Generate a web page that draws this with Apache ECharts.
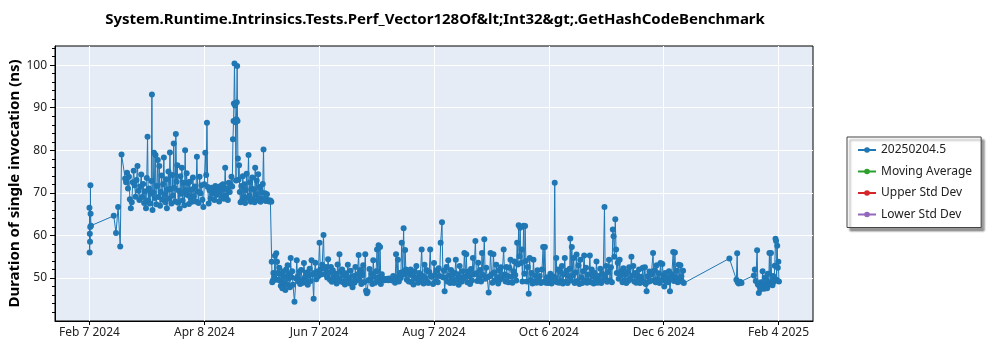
<!DOCTYPE html>
<html>
<head>
<meta charset="utf-8">
<script src="https://cdn.jsdelivr.net/npm/echarts@6/dist/echarts.min.js"></script>
<style>html,body{margin:0;padding:0;background:#fff;}#chart{width:1000px;height:350px;}</style>
</head>
<body>
<div id="chart"></div>
<script>
// Day offsets from 2024-02-07, and measured durations (ns)
const segFeb = [[0.0,66.5],[0.1,56.0],[0.2,60.4],[0.3,58.5],[0.4,62.0],[0.5,71.8],[0.6,65.1],[0.8,62.3],
  [12.8,64.6],[14.0,60.6],[15.1,66.7],[16.2,57.4],[16.9,79.0]];
const segHigh = [[18.8,73.4],[19.3,72.5],[19.8,74.7],[20.3,71.0],[20.8,73.8],[21.3,68.5],[21.8,66.4],[22.3,67.8],[22.8,72.5],[23.3,75.2],
  [23.8,71.8],[24.3,69.1],[24.8,73.0],[25.3,76.3],[25.8,70.5],[26.3,68.3],[26.8,71.5],[27.3,74.3],[27.8,69.0],[28.3,72.1],
  [28.8,67.6],[29.3,70.4],[29.8,66.4],[30.2,73.5],[30.6,83.2],[31.0,68.2],[31.4,71.0],[31.8,67.5],[32.2,69.8],[32.6,72.8],
  [32.9,93.1],[33.2,66.0],[33.6,70.1],[34.0,79.4],[34.4,68.8],[34.8,78.9],[35.2,67.3],[35.6,71.6],[36.0,77.7],[36.4,69.0],
  [36.8,76.3],[37.2,67.0],[37.6,70.2],[38.0,74.1],[38.4,68.4],[38.8,72.0],[39.2,78.3],[39.6,69.6],[40.0,67.8],[40.4,73.2],
  [40.8,66.4],[41.2,70.8],[41.6,75.0],[42.0,68.6],[42.4,79.5],[42.8,70.9],[43.2,67.5],[43.6,74.2],[44.0,69.3],[44.4,81.6],
  [44.8,71.2],[45.2,68.0],[45.5,83.8],[45.9,72.6],[46.3,76.5],[46.7,67.7],[47.1,70.5],[47.5,66.3],[47.9,73.9],[48.3,69.8],
  [48.7,75.9],[49.1,68.2],[49.5,72.4],[50.0,67.1],[50.4,80.0],[50.8,70.6],[51.2,74.6],[51.6,69.5],[52.0,72.3],[52.4,67.4],
  [52.8,72.6],[53.2,68.9],[53.6,70.8],[54.0,67.9],[54.5,73.6],[55.0,69.2],[55.5,71.5],[56.0,68.0],[56.6,78.5],[57.0,70.3],
  [57.5,67.6],[58.0,73.8],[58.5,69.9],[59.0,71.8],[59.5,68.4],[60.0,66.7],[60.5,72.0],[61.0,79.4],[61.5,74.2],[61.9,86.5],
  [62.3,71.4],[62.8,67.5],[63.3,70.6],[63.8,68.7],[64.3,71.2],[64.8,69.9],[65.3,70.9],[65.8,68.3],[66.3,71.6],[66.8,69.5],
  [67.3,70.8],[67.8,71.4],[68.3,68.0],[68.8,70.4],[69.3,71.7],[69.8,69.2],[70.3,72.0],[70.8,68.6],[71.2,70.9],[71.5,75.9],
  [71.9,69.4],[72.4,71.1],[72.9,68.3],[73.4,72.4],[73.9,70.2],[74.4,71.9],[74.8,73.8],[75.2,71.5],[75.6,82.6],[75.9,86.9],
  [76.1,91.0],[76.4,100.4],[76.7,90.5],[76.9,86.6],[77.2,72.9],[77.4,87.3],[77.6,91.3],[77.8,99.8],[78.0,86.9],[78.2,78.1],
  [78.5,73.1],[78.8,76.5],[79.2,70.2],[79.6,67.8],[80.0,71.6],[80.4,68.2],[80.8,73.9],[81.2,69.0],[81.6,72.0],[82.0,67.6],
  [82.4,70.7],[82.8,74.5],[83.2,68.8],[83.8,78.9],[84.2,69.4],[84.6,72.5],[85.0,67.9],[85.4,71.0],[85.8,73.6],[86.2,68.5],
  [86.6,70.8],[87.0,67.8],[87.3,75.9],[87.7,69.6],[88.1,72.9],[88.5,68.3],[88.9,74.4],[89.3,68.7],[89.7,71.4],[90.1,67.9],
  [90.5,70.2],[90.9,68.6],[91.3,72.1],[91.7,80.2],[92.1,68.4],[92.5,69.9],[92.9,68.1],[93.5,69.7],[94.1,68.3],[94.7,68.0],
  [95.3,68.2],[95.8,67.9]];
const segDrop = [[96.0,53.8],[96.3,49.0],[96.6,49.4],[96.9,51.2],[97.3,50.3],[97.7,55.2],[98.0,49.6],[98.4,55.8],[98.8,53.8],[99.2,51.2],
  [99.6,49.6],[100.0,52.4],[100.4,49.4],[100.8,48.2],[101.2,50.9],[101.6,47.6],[102.0,51.5],[102.4,48.8],[102.8,50.3],[103.2,47.2],
  [103.6,52.0],[104.0,48.5],[104.4,53.0],[104.8,49.8],[105.2,51.0],[105.6,47.8],[106.0,54.7],[106.4,50.2],[106.8,51.6],[107.2,48.4],
  [108.0,44.4],[108.8,49.9]];
const segSummer = [[109.2,54.2],[109.6,50.3],[110.0,49.2],[110.5,51.4],[111.0,48.6],[111.5,51.9],[112.0,49.5],[112.5,48.9],[113.0,53.5],[113.5,50.1],
  [114.0,49.0],[114.5,51.3],[115.0,48.4],[115.5,50.6],[116.0,52.2],[116.5,49.3],[117.0,54.2],[117.5,50.8],[118.1,45.1],[118.5,51.2],
  [119.0,53.6],[119.5,49.7],[120.0,51.5],[120.5,50.4],[121.2,58.3],[121.6,52.0],[122.0,50.8],[122.6,53.1],[123.3,60.1],[123.7,52.2],
  [124.2,50.9],[124.7,52.6],[125.2,50.1],[125.7,54.4],[126.2,51.3],[126.7,49.6],[127.2,52.6],[127.7,49.1],[128.2,51.8],[128.7,50.2],
  [129.2,49.4],[129.7,51.0],[130.2,48.7],[130.7,53.2],[131.2,50.0],[131.7,55.6],[132.1,51.4],[132.6,49.2],[133.1,52.0],[133.6,49.0],
  [134.1,50.6],[134.6,48.5],[135.1,51.1],[135.6,49.3],[136.1,53.1],[136.6,50.2],[137.1,48.7],[137.6,51.7],[138.1,49.1],[138.6,47.8],
  [139.1,50.5],[139.6,48.9],[140.1,52.6],[140.6,49.4],[141.1,50.8],[141.8,55.4],[142.2,49.6],[142.7,51.9],[143.2,48.6],[143.7,50.7],
  [144.2,53.0],[144.7,49.0],[145.3,55.6],[145.7,47.0],[146.1,46.4],[146.5,46.8],[147.0,49.5],[147.5,52.1],[148.0,49.7],[148.5,51.0],
  [149.0,48.6],[149.5,54.2],[150.0,50.3],[150.5,48.9],[151.0,51.6],[151.5,56.7],[152.0,49.3],[152.3,57.7],[152.7,50.2],[153.1,57.3],
  [153.5,48.6],[154.0,50.9],[154.5,49.6],[155.0,49.8],[155.5,49.5],[156.0,49.7],[156.5,49.6],[157.0,49.8],[157.5,49.5],[158.0,49.9],
  [158.5,49.6],[159.0,49.7],[159.5,49.4],[160.0,50.5],[160.5,49.6],[161.0,48.9],[161.5,55.6],[162.0,50.2],[162.5,54.3],[163.0,49.2],
  [163.5,51.2],[164.0,50.0],[164.5,58.3],[165.0,51.4],[165.5,61.7],[165.9,50.8],[166.3,56.6],[166.7,52.0]];
const segAugust = [[167.2,49.6],[167.7,51.7],[168.2,49.2],[168.7,50.9],[169.2,52.0],[169.7,49.0],[170.2,50.6],[170.7,48.5],[171.2,51.6],[171.7,49.8],
  [172.2,52.8],[172.7,50.1],[173.2,48.9],[173.7,51.2],[174.2,49.4],[175.0,56.7],[175.5,50.5],[176.0,48.7],[176.5,53.1],[177.0,50.0],
  [177.5,51.9],[178.0,49.1],[178.5,48.8],[179.0,51.4],[179.5,56.7],[180.0,50.3],[180.5,50.4],[181.0,48.6],[181.5,53.5],[182.0,50.7],
  [182.5,49.3],[183.0,51.8],[183.5,49.0],[184.0,52.3],[184.5,50.5],[185.0,58.3],[185.7,63.1],[186.2,50.2],[186.7,51.7],[187.1,46.9],
  [187.6,50.0],[188.1,52.6],[188.6,49.2],[189.0,54.2],[189.5,50.6],[190.0,48.8],[190.5,51.9],[191.0,49.5],[191.5,50.8],[192.0,48.8],
  [192.5,51.2],[193.0,54.3],[193.5,49.7],[194.0,50.9],[194.5,48.4],[195.0,52.8],[195.5,50.2],[196.0,49.1],[196.5,51.6],[197.0,49.9],
  [197.5,55.9],[198.0,50.3],[198.5,55.6],[199.0,49.0],[199.5,51.5],[200.0,50.4],[200.5,48.6],[201.0,52.1],[201.5,49.4],[202.0,54.7],
  [202.5,50.8],[203.3,58.7],[203.8,51.1],[204.3,49.3],[204.8,53.6],[205.3,50.0],[205.8,51.9],[206.3,49.2],[206.8,55.9],[207.3,50.7],
  [208.0,59.1],[208.5,49.8],[209.0,52.4],[209.5,50.2],[210.3,46.6],[210.8,50.4],[211.3,55.9],[211.8,50.9],[212.3,48.9],[212.8,55.6],
  [213.3,51.3],[213.8,49.5],[214.3,53.1],[214.8,50.2],[215.3,48.7],[215.8,51.8],[216.3,49.6],[216.8,52.5],[217.3,50.0],[218.2,56.7],
  [218.7,50.8],[219.2,49.2],[219.7,52.6],[220.2,50.5],[220.7,49.0],[221.2,52.4],[221.8,54.3],[222.3,50.3],[222.8,48.9],[223.3,51.6],
  [223.8,53.9],[224.3,50.7],[224.8,49.4],[225.3,58.3],[225.7,53.2],[226.1,62.4]];
const segAutumn = [[226.5,55.1],[226.9,61.8],[227.3,53.5],[227.7,56.7],[228.1,49.2],[228.7,62.3],[229.1,51.0],[229.5,62.2],[229.9,54.0],[230.4,49.2],
  [230.9,52.6],[231.4,46.3],[231.9,54.7],[232.4,49.5],[232.9,51.2],[233.4,48.7],[233.9,54.3],[234.4,49.2],[234.9,50.6],[235.5,48.9],
  [236.0,51.8],[236.6,49.5],[237.2,50.5],[237.8,48.8],[238.4,52.0],[239.0,57.3],[239.4,49.1],[239.9,57.3],[240.4,48.9],[241.0,50.2],
  [241.6,48.8],[242.2,49.6],[242.8,51.0],[243.4,48.7],[244.0,50.4],[244.6,49.2],[245.1,72.4],[245.5,50.0],[245.9,54.7],[246.4,49.0],
  [246.9,52.0],[247.4,48.9],[247.9,51.5],[248.4,49.3],[248.9,52.8],[249.4,48.7],[249.9,50.9],[250.4,54.7],[250.9,49.1],[251.4,51.7],
  [251.9,48.8],[252.4,50.5],[253.0,52.2],[253.3,59.3],[253.7,49.4],[254.1,57.3],[254.6,50.6],[255.1,54.7],[255.6,48.8],[256.1,51.3],
  [256.6,55.5],[257.1,49.3],[257.6,53.0],[258.1,48.6],[258.6,54.3],[259.1,50.2],[259.6,48.8],[260.1,51.6],[260.6,55.3],[261.1,49.4],
  [261.6,52.4],[262.1,48.9],[262.6,50.8],[263.1,49.3],[263.6,55.3],[264.1,49.0],[264.6,52.0],[265.1,50.4],[265.6,48.7],[266.1,51.2],
  [266.6,49.6],[267.1,53.9],[267.6,48.9],[268.1,50.5],[268.6,49.3],[269.1,52.2],[269.6,48.8],[270.1,51.0],[270.6,49.5],[271.3,66.7],
  [271.7,50.2],[272.2,52.8],[272.7,49.1],[273.2,51.4],[273.7,54.3],[274.2,49.4],[274.7,52.5],[275.2,49.0],[275.7,61.4],[276.1,59.8],
  [276.5,55.0],[277.0,63.8],[277.4,56.7],[277.8,51.2],[278.3,53.6],[278.8,49.8],[279.3,54.3],[279.8,50.6],[280.3,51.6],[280.8,49.0],
  [281.3,52.3],[281.8,49.5],[282.3,50.9],[282.8,48.8],[283.3,51.4],[283.8,49.3],[284.3,52.5],[284.8,49.7],[285.5,55.0],[286.0,50.6],
  [286.5,52.8]];
const segDecember = [[287.0,49.2],[287.5,51.2],[288.0,48.9],[288.5,50.6],[289.0,49.4],[289.5,52.0],[290.0,48.8],[290.5,50.3],[291.0,49.6],[291.5,52.4],
  [292.0,49.0],[292.6,52.5],[293.0,48.6],[293.5,46.9],[294.0,50.4],[294.5,49.1],[295.0,51.5],[295.5,49.3],[296.0,50.8],[296.9,55.9],
  [297.3,49.5],[297.8,51.8],[298.3,49.0],[298.8,53.0],[299.3,49.7],[299.8,51.1],[300.3,48.8],[300.8,53.5],[301.3,49.4],[301.8,53.3],
  [302.3,50.6],[302.8,48.0],[303.3,51.2],[303.8,49.3],[304.3,50.1],[304.8,49.0],[305.3,51.6],[305.8,46.9],[306.3,49.8],[306.8,50.9],
  [307.5,56.1],[307.9,49.3],[308.4,56.0],[308.9,50.2],[309.4,51.7],[309.9,49.0],[310.4,53.1],[310.8,49.6],[311.3,53.0],[311.8,50.4],
  [312.3,49.1],[312.7,51.7],[313.1,48.8]];
const segJanuary = [[337.1,54.6],[340.8,49.6],[341.2,55.8],[341.5,49.0],[342.0,48.7],[342.8,49.1],[343.5,48.8],
  [350.0,50.6],[350.5,52.0],[351.0,49.3],[351.7,56.5],[352.1,48.5],[352.6,46.5],[353.0,48.0],[353.4,47.3],[353.8,49.0],[354.2,47.8],
  [354.6,51.6],[355.0,48.5],[355.4,47.5],[355.8,50.1],[356.2,48.2],[356.6,49.3],[357.0,47.6],[357.4,51.0],[357.8,48.4],[358.2,55.9],
  [358.6,48.6],[359.0,55.9],[359.4,49.2],[359.8,48.3],[360.2,50.5],[360.6,49.1],[361.0,52.9],[361.4,59.2],[361.7,58.7],[362.0,49.6],
  [362.3,57.6],[362.6,52.4],[362.9,53.8],[363.2,49.2]];
const movingAverage = [];
const upperStdDev = [];
const lowerStdDev = [];

const xTickDays = [0, 60.5, 121, 181.5, 242, 302.5, 363];
const yTickValues = [50, 60, 70, 80, 90, 100];
const yMinorValues = [42,44,46,48,52,54,56,58,62,64,66,68,72,74,76,78,82,84,86,88,92,94,96,98,102,104];
const MONTHS = ['Jan','Feb','Mar','Apr','May','Jun','Jul','Aug','Sep','Oct','Nov','Dec'];
const START = Date.UTC(2024, 1, 7);
function dayLabel(v) {
  const d = new Date(START + Math.round(v) * 86400000);
  return MONTHS[d.getUTCMonth()] + ' ' + d.getUTCDate() + ' ' + d.getUTCFullYear();
}

const mainData = [].concat(segFeb, segHigh, segDrop, segSummer, segAugust, segAutumn, segDecember, segJanuary);
const FONT = "'Noto Sans', 'Open Sans', sans-serif";

const chart = echarts.init(document.getElementById('chart'), null, {renderer: 'canvas'});
chart.setOption({
  animation: false,
  backgroundColor: '#ffffff',
  title: {
    text: 'System.Runtime.Intrinsics.Tests.Perf_Vector128Of&lt;Int32&gt;.GetHashCodeBenchmark',
    left: 430, top: 7, textAlign: 'center',
    textStyle: {fontFamily: FONT, fontSize: 15, fontWeight: 'bold', color: '#000'}
  },
  grid: {
    left: 55, right: 187, top: 46, bottom: 29,
    show: true, backgroundColor: '#E5ECF6', borderColor: '#000', borderWidth: 1,
    containLabel: false, outerBoundsMode: 'none'
  },
  legend: {
    orient: 'vertical', left: 847, top: 137,
    data: ['20250204.5', 'Moving Average', 'Upper Std Dev', 'Lower Std Dev'],
    itemWidth: 18, itemHeight: 7, itemGap: 7.5,
    padding: [6, 9, 6, 10],
    backgroundColor: '#fff', borderColor: '#444', borderWidth: 1,
    shadowColor: 'rgba(0,0,0,0.4)', shadowOffsetX: 3, shadowOffsetY: 3, shadowBlur: 2,
    textStyle: {fontFamily: FONT, fontSize: 12, color: '#222', lineHeight: 14}
  },
  xAxis: {
    type: 'value', min: -18.15, max: 381.15,
    axisLine: {show: true, onZero: false, lineStyle: {color: '#000', width: 1}},
    axisTick: {show: true, customValues: xTickDays, length: 4, lineStyle: {color: '#000'}},
    axisLabel: {customValues: xTickDays, formatter: dayLabel, margin: 6, fontFamily: FONT, fontSize: 12, color: '#222'},
    splitLine: {show: true, lineStyle: {color: '#fff', width: 1}}
  },
  yAxis: [{
    type: 'value', min: 39.9, max: 104.5, position: 'left',
    name: 'Duration of single invocation (ns)', nameLocation: 'middle', nameGap: 33, nameRotate: 90,
    nameMoveOverlap: false,
    nameTextStyle: {fontFamily: FONT, fontSize: 15, fontWeight: 'bold', color: '#000'},
    axisLine: {show: true, onZero: false, lineStyle: {color: '#000', width: 1}},
    axisTick: {show: true, customValues: yTickValues, length: 5, lineStyle: {color: '#000'}},
    axisLabel: {customValues: yTickValues, margin: 8, fontFamily: FONT, fontSize: 12, color: '#222'},
    splitLine: {show: true, lineStyle: {color: '#fff', width: 1}}
  }, {
    type: 'value', min: 39.9, max: 104.5, position: 'left',
    axisLine: {show: false, onZero: false},
    axisTick: {show: true, customValues: yMinorValues, length: 3, lineStyle: {color: '#000'}},
    axisLabel: {show: false},
    splitLine: {show: false}
  }],
  series: [{
    name: '20250204.5', type: 'line', data: mainData, yAxisIndex: 0,
    symbol: 'circle', symbolSize: 6, showAllSymbol: true, sampling: null,
    itemStyle: {color: '#1f77b4', borderWidth: 0},
    lineStyle: {color: '#1f77b4', width: 1}
  }, {
    name: 'Moving Average', type: 'line', data: movingAverage, symbol: 'circle', symbolSize: 6,
    itemStyle: {color: '#2ca02c'}, lineStyle: {color: '#2ca02c', width: 1}
  }, {
    name: 'Upper Std Dev', type: 'line', data: upperStdDev, symbol: 'circle', symbolSize: 6,
    itemStyle: {color: '#d62728'}, lineStyle: {color: '#d62728', width: 1}
  }, {
    name: 'Lower Std Dev', type: 'line', data: lowerStdDev, symbol: 'circle', symbolSize: 6,
    itemStyle: {color: '#9467bd'}, lineStyle: {color: '#9467bd', width: 1}
  }]
});
</script>
</body>
</html>
